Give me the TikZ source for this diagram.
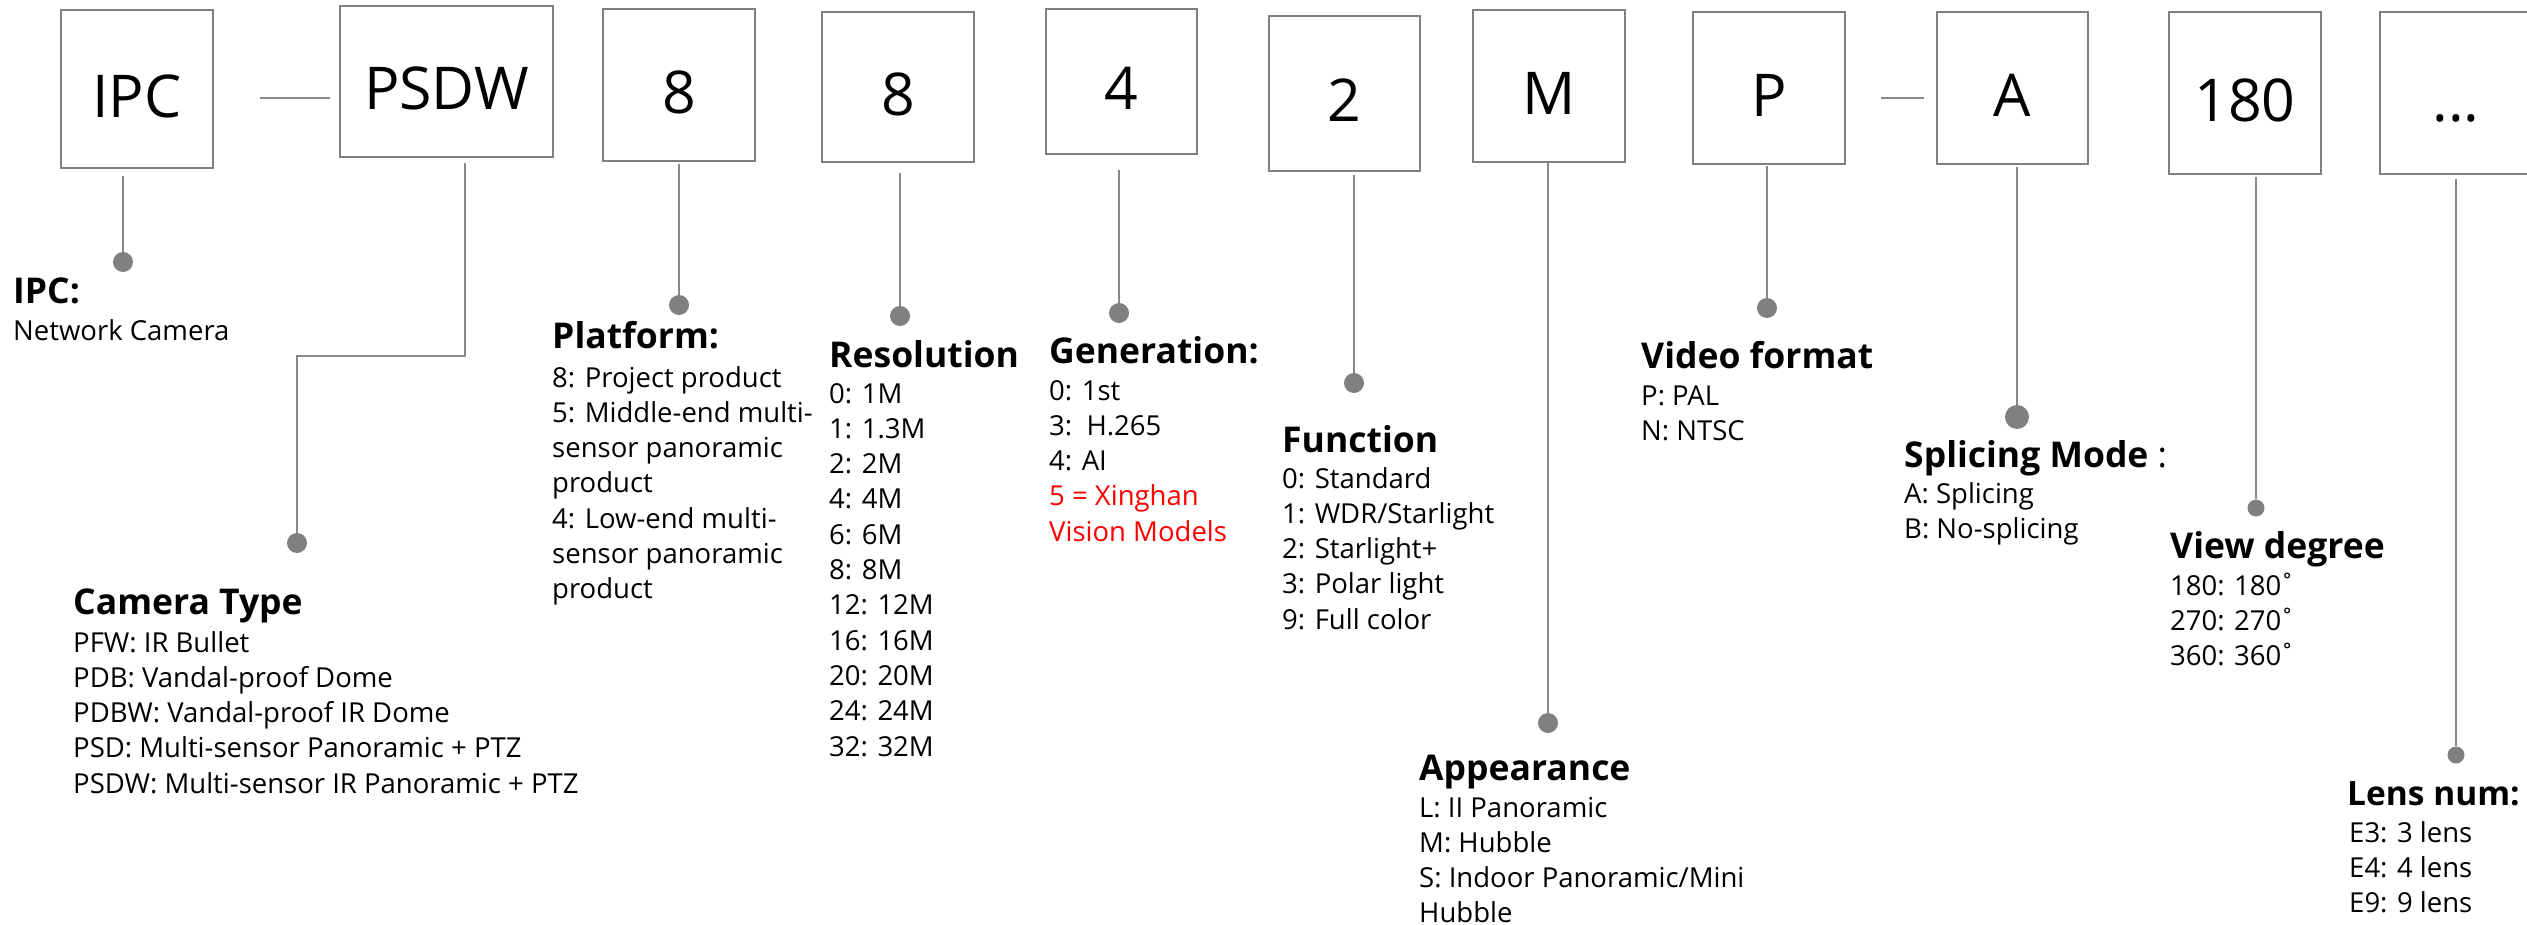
\documentclass[tikz,border=0pt]{standalone}
\usepackage{fontspec}
\setmainfont{Open Sans}
\usetikzlibrary{calc}
\definecolor{boxgray}{RGB}{128,128,128}
\definecolor{linegray}{RGB}{136,136,136}
\definecolor{dotgray}{RGB}{128,128,128}
\definecolor{redtxt}{RGB}{255,0,0}
\tikzset{
  codebox/.style={draw=boxgray, line width=2pt, inner sep=0pt,
    font=\fontsize{59}{60}\selectfont, text height=57pt, text depth=0pt},
  conn/.style={draw=linegray, line width=2pt},
  dot/.style={circle, fill=dotgray, inner sep=0pt, minimum size=20pt},
  head/.style={anchor=base west, inner sep=0pt, font=\fontsize{35.5}{40}\selectfont\bfseries},
  body/.style={anchor=base west, inner sep=0pt, font=\fontsize{27.5}{35.3}\selectfont}
}
\begin{document}
\begin{tikzpicture}[x=1pt,y=-1pt]
\useasboundingbox (0,0) rectangle (2527,925);
% code boxes
\node[codebox, minimum width=152pt, minimum height=158pt] (ipc) at (137,89) {IPC};
\node[codebox, minimum width=213pt, minimum height=151pt] (psdw) at (446.5,81.5) {PSDW};
\node[codebox, minimum width=152pt, minimum height=152pt] (plat) at (679,85) {8};
\node[codebox, minimum width=152pt, minimum height=150pt] (res) at (898,87) {8};
\node[codebox, minimum width=151pt, minimum height=145pt] (gen) at (1121.5,81.5) {4};
\node[codebox, minimum width=151pt, minimum height=155pt] (fun) at (1344.5,93.5) {2};
\node[codebox, minimum width=152pt, minimum height=152pt] (app) at (1549,86) {M};
\node[codebox, minimum width=152pt, minimum height=152pt] (vid) at (1769,88) {P};
\node[codebox, minimum width=151pt, minimum height=152pt] (spl) at (2012.5,88) {A};
\node[codebox, minimum width=152pt, minimum height=162pt] (deg) at (2245,93) {180};
\node[codebox, minimum width=152pt, minimum height=162pt] (lens) at (2456,93) {...};
% dashes between boxes
\draw[conn] ($(ipc.east)+(46,9)$) -- ($(psdw.west)+(-9,16.5)$);
\draw[conn] ($(vid.east)+(35,10)$) -- ($(spl.west)+(-12,10)$);
% dots
\node[dot] (d1) at (123,262) {};
\node[dot] (d2) at (297,543) {};
\node[dot] (d3) at (679,305) {};
\node[dot] (d4) at (900,316) {};
\node[dot] (d5) at (1119,313) {};
\node[dot] (d6) at (1354,383) {};
\node[dot] (d7) at (1548,723) {};
\node[dot] (d8) at (1767,308) {};
\node[dot, minimum size=24pt] (d9) at (2017,417) {};
\node[dot, minimum size=17pt] (d10) at (2256,508) {};
\node[dot, minimum size=17pt] (d11) at (2456,755) {};
% connectors
\draw[conn] ($(ipc.south -| d1)+(0,7)$) -- (d1);
\draw[conn] ($(psdw.south)+(18.5,5)$) |- ($(d2)+(0,-187)$) -- (d2);
\draw[conn] ($(plat.south -| d3)+(0,2)$) -- (d3);
\draw[conn] ($(res.south -| d4)+(0,10)$) -- (d4);
\draw[conn] ($(gen.south -| d5)+(0,15)$) -- (d5);
\draw[conn] ($(fun.south -| d6)+(0,3)$) -- (d6);
\draw[conn] ($(app.south -| d7)+(0,0)$) -- (d7);
\draw[conn] ($(vid.south -| d8)+(0,1)$) -- (d8);
\draw[conn] ($(spl.south -| d9)+(0,2)$) -- (d9);
\draw[conn] ($(deg.south -| d10)+(0,2)$) -- (d10);
\draw[conn] ($(lens.south -| d11)+(0,4)$) -- (d11);
% texts
\node[head] (h1) at (13,304) {IPC:};
\node[body] (t1) at (13,341) {\vtop{\hbox{Network Camera}}};
\node[head] (h2) at (73,614) {Camera Type};
\node[body] (t2) at (73,652) {\vtop{\hbox{PFW: IR Bullet}\hbox{PDB: Vandal-proof Dome}\hbox{PDBW: Vandal-proof IR Dome}\hbox{PSD: Multi-sensor Panoramic + PTZ}\hbox{PSDW: Multi-sensor IR Panoramic + PTZ}}};
\node[head] (h3) at (552,348) {Platform:};
\node[body] (t3) at (552,387) {\vtop{\hbox{8: Project product}\hbox{5: Middle-end multi-}\hbox{sensor panoramic}\hbox{product}\hbox{4: Low-end multi-}\hbox{sensor panoramic}\hbox{product}}};
\node[head] (h4) at (829,367) {Resolution};
\node[body] (t4) at (829,403) {\vtop{\hbox{0: 1M}\hbox{1: 1.3M}\hbox{2: 2M}\hbox{4: 4M}\hbox{6: 6M}\hbox{8: 8M}\hbox{12: 12M}\hbox{16: 16M}\hbox{20: 20M}\hbox{24: 24M}\hbox{32: 32M}}};
\node[head] (h5) at (1049,363) {Generation:};
\node[body] (t5) at (1049,400) {\vtop{\hbox{0: 1st}\hbox{3:\ \ H.265}\hbox{4: AI}\hbox{\color{redtxt}5 = Xinghan}\hbox{\color{redtxt}Vision Models}}};
\node[head] (h6) at (1282,452) {Function};
\node[body] (t6) at (1282,488) {\vtop{\hbox{0: Standard}\hbox{1: WDR/Starlight}\hbox{2: Starlight+}\hbox{3: Polar light}\hbox{9: Full color}}};
\node[head] (h7) at (1419,780) {Appearance};
\node[body] (t7) at (1419,817) {\vtop{\hbox{L: II Panoramic}\hbox{M: Hubble}\hbox{S: Indoor Panoramic/Mini}\hbox{Hubble}}};
\node[head] (h8) at (1641,368) {Video format};
\node[body] (t8) at (1641,405) {\vtop{\hbox{P: PAL}\hbox{N: NTSC}}};
\node[head] (h9) at (1904,467) {Splicing Mode\mdseries{} :};
\node[body] (t9) at (1904,503) {\vtop{\hbox{A: Splicing}\hbox{B: No-splicing}}};
\node[head] (h10) at (2170,558) {View degree};
\node[body] (t10) at (2170,595) {\vtop{\hbox{180: 180\kern-2pt˚}\hbox{270: 270\kern-2pt˚}\hbox{360: 360\kern-2pt˚}}};
\node[head, font=\fontsize{33.5}{40}\selectfont\bfseries] (h11) at (2347,805) {Lens num:};
\node[body] (t11) at (2349,842) {\vtop{\hbox{E3: 3 lens}\hbox{E4: 4 lens}\hbox{E9: 9 lens}}};
\end{tikzpicture}
\end{document}
